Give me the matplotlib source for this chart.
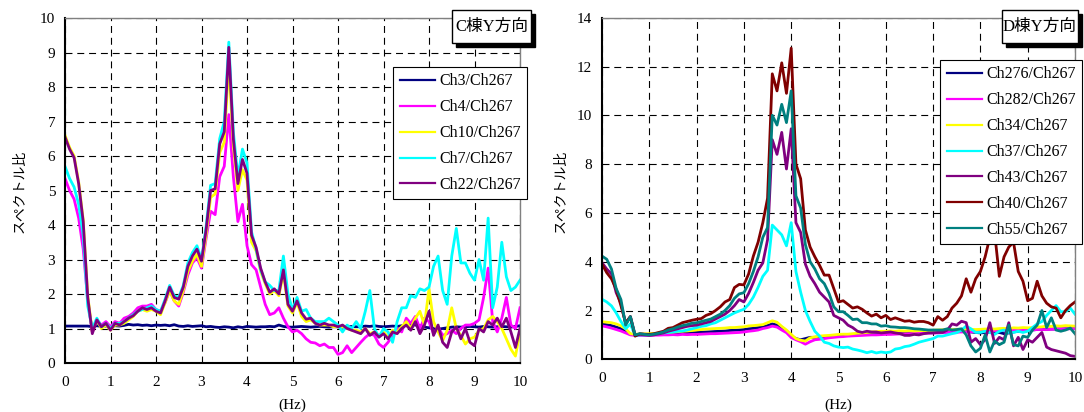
import numpy as np
import matplotlib

matplotlib.use("Agg")
import matplotlib.pyplot as plt
from matplotlib.patches import Rectangle

W, H = 1084, 412

# frequency axis (Hz), 0.1 Hz steps
freq = np.round(np.arange(0, 10.01, 0.1), 1)

# --- C棟 Y方向 (left panel) ---
c_labels = ["Ch3/Ch267", "Ch4/Ch267", "Ch10/Ch267", "Ch7/Ch267", "Ch22/Ch267"]
c_colors = ["#000080", "#ff00ff", "#ffff00", "#00ffff", "#800080"]

c_ch3 = [1.07, 1.07, 1.07, 1.07, 1.07, 1.07, 1.05, 1.08, 1.06, 1.07,
         1.06, 1.08, 1.07, 1.09, 1.12, 1.10, 1.11, 1.09, 1.10, 1.08,
         1.10, 1.09, 1.10, 1.08, 1.11, 1.07, 1.06, 1.08, 1.06, 1.07,
         1.08, 1.05, 1.06, 1.04, 1.03, 1.05, 1.04, 1.02, 1.05, 1.03,
         1.06, 1.05, 1.04, 1.05, 1.05, 1.06, 1.05, 1.10, 1.06, 1.04,
         1.04, 1.05, 1.06, 1.05, 1.04, 1.05, 1.06, 1.05, 1.04, 1.05,
         1.05, 1.04, 1.05, 1.06, 1.05, 1.05, 1.07, 1.06, 1.08, 1.06,
         1.05, 1.06, 1.07, 1.06, 1.08, 1.10, 1.12, 1.10, 1.08, 1.04,
         1.02, 1.00, 0.98, 1.00, 1.02, 1.04, 1.05, 1.04, 1.05, 1.06,
         1.05, 1.04, 1.06, 1.05, 1.04, 1.05, 1.06, 1.05, 1.04, 1.06, 1.08]

c_ch4 = [5.35, 5.0, 4.75, 4.2, 3.3, 1.8, 0.9, 1.25, 1.1, 1.2,
         1.05, 1.2, 1.15, 1.3, 1.35, 1.45, 1.6, 1.65, 1.65, 1.7,
         1.55, 1.5, 1.75, 2.1, 1.8, 1.65, 2.05, 2.55, 2.9, 3.05,
         2.75, 3.6, 4.4, 4.3, 5.4, 5.7, 7.2, 5.4, 4.1, 4.6,
         3.4, 2.85, 2.7, 2.2, 1.7, 1.4, 1.45, 1.6, 1.3, 1.05,
         0.9, 0.95, 0.85, 0.7, 0.6, 0.58, 0.5, 0.55, 0.45, 0.45,
         0.25, 0.3, 0.5, 0.3, 0.45, 0.6, 0.74, 0.85, 0.8, 0.55,
         0.45, 0.6, 0.8, 1.0, 0.9, 1.3, 1.15, 1.35, 1.0, 1.3,
         1.2, 0.85, 1.05, 0.8, 0.85, 0.95, 0.85, 1.0, 1.1, 1.1,
         1.15, 1.25, 1.9, 2.75, 1.2, 0.9, 1.3, 1.9, 1.1, 1.0, 1.6]

c_ch10 = [6.6, 6.25, 6.0, 5.25, 4.15, 1.95, 0.9, 1.25, 1.0, 1.1,
          0.95, 1.1, 1.1, 1.15, 1.25, 1.35, 1.5, 1.55, 1.5, 1.55,
          1.5, 1.4, 1.75, 2.1, 1.8, 1.7, 2.1, 2.65, 2.95, 3.15,
          2.8, 3.7, 4.8, 4.9, 6.1, 6.4, 8.7, 6.3, 5.0, 5.6,
          5.3, 3.5, 3.25, 2.65, 2.3, 2.0, 2.1, 1.95, 2.6, 1.65,
          1.45, 1.75, 1.35, 1.2, 1.25, 1.15, 1.1, 1.1, 1.1, 1.05,
          1.05, 1.05, 1.0, 0.95, 0.95, 0.9, 1.0, 0.85, 0.9, 0.8,
          0.9, 0.75, 0.95, 0.9, 1.05, 1.2, 1.0, 1.3, 1.5, 1.1,
          2.15, 1.2, 0.9, 0.65, 0.95, 1.6, 1.0, 0.8, 0.55, 0.7,
          0.75, 0.95, 1.0, 1.25, 1.35, 1.2, 1.0, 0.7, 0.4, 0.2, 0.9]

c_ch7 = [5.7, 5.35, 5.1, 4.6, 3.7, 1.65, 1.0, 1.3, 1.05, 1.15,
         1.0, 1.15, 1.15, 1.2, 1.3, 1.4, 1.5, 1.55, 1.6, 1.65,
         1.55, 1.5, 1.85, 2.25, 1.95, 1.9, 2.25, 2.9, 3.2, 3.4,
         3.0, 3.95, 5.15, 5.2, 6.5, 7.0, 9.3, 6.7, 5.4, 6.2,
         5.8, 3.8, 3.3, 2.7, 2.35, 2.25, 2.1, 2.1, 3.1, 2.0,
         1.55, 1.9, 1.5, 1.55, 1.3, 1.2, 1.2, 1.2, 1.3, 1.2,
         1.1, 0.9, 1.1, 1.0, 1.2, 1.0, 1.5, 2.1, 1.0, 0.75,
         1.0, 0.9, 0.6, 1.2, 1.6, 1.6, 1.95, 1.9, 2.15, 2.1,
         2.2, 2.8, 3.1, 2.1, 1.7, 3.1, 3.9, 2.9, 2.9, 2.6,
         2.4, 3.0, 2.4, 4.2, 1.6, 2.2, 3.5, 2.5, 2.1, 2.2, 2.4]

c_ch22 = [6.55, 6.2, 5.95, 5.2, 4.1, 1.9, 0.85, 1.25, 1.05, 1.15,
          0.95, 1.15, 1.1, 1.2, 1.3, 1.37, 1.5, 1.6, 1.55, 1.6,
          1.5, 1.45, 1.8, 2.2, 1.9, 1.85, 2.2, 2.8, 3.1, 3.3,
          2.95, 3.85, 5.0, 5.05, 6.35, 6.7, 9.15, 6.5, 5.2, 5.9,
          5.5, 3.7, 3.35, 2.75, 2.35, 2.05, 2.15, 2.0, 2.7, 1.7,
          1.5, 1.8, 1.45, 1.27, 1.3, 1.15, 1.1, 1.15, 1.1, 1.1,
          1.05, 1.1, 1.0, 0.95, 0.9, 0.85, 1.0, 0.8, 0.9, 0.75,
          0.85, 0.7, 0.9, 0.85, 1.0, 1.1, 0.95, 1.2, 0.85, 1.1,
          1.5, 0.8, 1.1, 0.6, 0.45, 0.9, 1.05, 0.7, 1.0, 0.6,
          0.5, 1.0, 0.9, 1.2, 1.1, 1.3, 1.05, 1.3, 0.9, 0.45, 1.0]

# --- D棟 Y方向 (right panel) ---
d_labels = ["Ch276/Ch267", "Ch282/Ch267", "Ch34/Ch267", "Ch37/Ch267",
            "Ch43/Ch267", "Ch40/Ch267", "Ch55/Ch267"]
d_colors = ["#000080", "#ff00ff", "#ffff00", "#00ffff", "#800080", "#800000", "#008080"]

d_ch276 = [1.45, 1.42, 1.38, 1.32, 1.26, 1.15, 1.02, 1.0, 1.0, 1.0,
           1.0, 1.01, 1.02, 1.03, 1.04, 1.05, 1.06, 1.07, 1.08, 1.09,
           1.1, 1.11, 1.12, 1.13, 1.14, 1.15, 1.16, 1.18, 1.19, 1.2,
           1.22, 1.25, 1.27, 1.3, 1.33, 1.38, 1.45, 1.4, 1.27, 1.15,
           0.95, 0.85, 0.8, 0.85, 0.9, 0.9, 0.92, 0.93, 0.95, 0.96,
           0.98, 0.99, 1.0, 1.0, 1.02, 1.02, 1.03, 1.04, 1.05, 1.05,
           1.06, 1.06, 1.07, 1.07, 1.08, 1.08, 1.09, 1.09, 1.1, 1.1,
           1.11, 1.1, 1.12, 1.12, 1.13, 1.13, 1.14, 1.14, 1.12, 1.1,
           1.08, 1.1, 1.12, 1.08, 1.1, 1.05, 1.08, 1.12, 1.15, 1.18,
           1.2, 1.2, 1.22, 1.22, 1.23, 1.24, 1.24, 1.25, 1.25, 1.26, 1.27]

d_ch282 = [1.37, 1.33, 1.28, 1.22, 1.16, 1.08, 1.0, 0.98, 0.98, 0.98,
           0.98, 0.99, 0.99, 1.0, 1.0, 1.01, 1.0, 1.02, 1.01, 1.02,
           1.02, 1.03, 1.04, 1.05, 1.05, 1.06, 1.07, 1.08, 1.09, 1.1,
           1.12, 1.15, 1.17, 1.2, 1.26, 1.3, 1.36, 1.32, 1.2, 1.09,
           0.89, 0.8, 0.72, 0.62, 0.72, 0.8, 0.82, 0.85, 0.88, 0.9,
           0.92, 0.93, 0.95, 0.96, 0.97, 0.98, 0.99, 1.0, 1.0, 1.01,
           1.02, 1.02, 1.03, 1.04, 1.04, 1.05, 1.06, 1.06, 1.07, 1.07,
           1.08, 1.08, 1.09, 1.1, 1.1, 1.11, 1.12, 1.12, 1.13, 1.14,
           1.15, 1.15, 1.16, 1.17, 1.18, 1.18, 1.19, 1.2, 1.2, 1.21,
           1.2, 1.21, 1.22, 1.22, 1.22, 1.23, 1.24, 1.24, 1.25, 1.25, 1.26]

d_ch34 = [1.54, 1.52, 1.5, 1.45, 1.37, 1.25, 1.05, 1.03, 1.03, 1.04,
          1.05, 1.06, 1.07, 1.09, 1.1, 1.12, 1.13, 1.15, 1.16, 1.18,
          1.2, 1.22, 1.24, 1.25, 1.26, 1.27, 1.28, 1.3, 1.3, 1.32,
          1.33, 1.37, 1.38, 1.4, 1.42, 1.5, 1.58, 1.52, 1.35, 1.2,
          1.02, 0.85, 0.78, 0.75, 0.88, 0.92, 0.95, 0.97, 0.98, 1.0,
          1.02, 1.03, 1.03, 1.05, 1.07, 1.08, 1.1, 1.12, 1.13, 1.15,
          1.15, 1.16, 1.15, 1.17, 1.16, 1.17, 1.16, 1.17, 1.18, 1.17,
          1.19, 1.2, 1.21, 1.22, 1.22, 1.23, 1.22, 1.24, 1.23, 1.22,
          1.23, 1.24, 1.25, 1.24, 1.26, 1.27, 1.26, 1.29, 1.28, 1.3,
          1.29, 1.3, 1.32, 1.33, 1.36, 1.35, 1.37, 1.36, 1.38, 1.37, 1.36]

d_ch37 = [2.46, 2.35, 2.19, 1.9, 1.55, 1.25, 1.45, 0.96, 1.0, 1.0,
          1.0, 1.02, 1.05, 1.08, 1.1, 1.12, 1.15, 1.16, 1.2, 1.25,
          1.3, 1.35, 1.38, 1.45, 1.5, 1.6, 1.7, 1.8, 1.9, 1.98,
          2.05, 2.25, 2.55, 2.95, 3.4, 3.65, 5.5, 5.3, 5.1, 4.65,
          5.6, 3.6, 2.75, 2.0, 1.55, 1.15, 0.95, 0.7, 0.65, 0.55,
          0.5, 0.48, 0.5, 0.42, 0.38, 0.33, 0.27, 0.32, 0.26, 0.3,
          0.27, 0.3, 0.42, 0.45, 0.52, 0.55, 0.62, 0.7, 0.75, 0.8,
          0.85, 0.95, 0.95, 1.0, 1.05, 1.09, 1.2, 1.36, 1.25, 1.1,
          1.1, 1.15, 1.1, 1.02, 1.15, 1.2, 1.1, 1.1, 1.15, 1.1,
          1.15, 1.3, 1.45, 1.55, 1.8, 2.0, 2.2, 1.95, 1.95, 2.1, 1.85]

d_ch43 = [3.96, 3.7, 3.5, 2.73, 2.3, 1.45, 1.75, 0.98, 1.02, 1.0,
          0.98, 1.0, 1.04, 1.08, 1.15, 1.2, 1.25, 1.3, 1.35, 1.38,
          1.4, 1.45, 1.5, 1.55, 1.65, 1.75, 1.85, 2.0, 2.2, 2.45,
          2.35, 2.7, 3.15, 3.65, 3.95, 4.9, 9.0, 8.4, 9.3, 7.8,
          9.45, 5.6, 5.2, 3.9, 3.4, 3.1, 2.75, 2.55, 2.35, 1.8,
          1.7, 1.6, 1.4, 1.3, 1.15, 1.1, 1.15, 1.12, 1.12, 1.08,
          1.1, 1.12, 1.08, 1.05, 0.98, 0.98, 1.02, 1.0, 1.05, 1.08,
          1.08, 1.1, 1.1, 1.2, 1.45, 1.4, 1.56, 1.5, 0.7, 0.85,
          0.6, 0.8, 1.5, 0.65, 0.9, 0.8, 1.5, 0.55, 0.9, 0.4,
          0.8, 0.7, 0.9, 1.1, 0.5, 0.4, 0.35, 0.3, 0.25, 0.15, 0.12]

d_ch40 = [3.9, 3.55, 3.3, 2.87, 2.2, 1.5, 1.75, 0.95, 1.05, 1.03,
          1.02, 1.05, 1.1, 1.15, 1.27, 1.3, 1.4, 1.5, 1.55, 1.6,
          1.64, 1.67, 1.8, 1.87, 2.0, 2.15, 2.35, 2.45, 2.94, 3.07,
          3.05, 3.5, 4.23, 4.8, 5.6, 6.6, 11.7, 11.0, 12.15, 10.9,
          12.75, 8.0, 7.4, 5.3, 4.6, 4.2, 3.85, 3.45, 3.45, 2.9,
          2.35, 2.4, 2.25, 2.1, 2.15, 2.05, 1.9, 1.77, 1.85, 1.7,
          1.8, 1.63, 1.7, 1.63, 1.56, 1.58, 1.52, 1.55, 1.55, 1.5,
          1.4, 1.75, 1.6, 1.75, 2.1, 2.3, 2.6, 3.3, 2.75, 3.3,
          3.6, 4.2, 5.0, 5.2, 3.4, 4.2, 4.6, 4.8, 3.6, 3.2,
          2.4, 2.5, 3.2, 2.6, 2.3, 2.15, 2.1, 1.7, 2.0, 2.2, 2.35]

d_ch55 = [4.23, 4.1, 3.7, 2.9, 2.45, 1.4, 1.75, 1.0, 1.05, 1.02,
          1.0, 1.03, 1.07, 1.12, 1.2, 1.25, 1.32, 1.38, 1.42, 1.48,
          1.5, 1.55, 1.6, 1.65, 1.75, 1.85, 2.0, 2.2, 2.5, 2.68,
          2.73, 3.1, 3.6, 4.2, 5.0, 5.4, 10.0, 9.6, 10.45, 9.7,
          11.0, 6.7, 6.2, 4.7, 4.0, 3.7, 3.3, 3.1, 2.7, 2.15,
          1.95, 1.95, 1.8, 1.63, 1.65, 1.5, 1.5, 1.45, 1.45, 1.36,
          1.38, 1.33, 1.32, 1.3, 1.3, 1.28, 1.25, 1.24, 1.22, 1.2,
          1.2, 1.2, 1.2, 1.25, 1.2, 1.22, 1.25, 1.0, 0.55, 0.3,
          0.45, 1.0, 0.3, 0.75, 0.6, 0.7, 1.4, 0.6, 0.55, 0.95,
          0.9, 1.2, 1.4, 2.0, 1.3, 1.7, 1.2, 1.15, 1.2, 1.28, 1.05]

c_series = [c_ch3, c_ch4, c_ch10, c_ch7, c_ch22]
d_series = [d_ch276, d_ch282, d_ch34, d_ch37, d_ch43, d_ch40, d_ch55]

plt.rcParams["font.family"] = ["Liberation Serif", "Noto Sans CJK JP"]
plt.rcParams["lines.scale_dashes"] = False


def px_rect(x0, y0, x1, y1):
    return [x0 / W, 1 - y1 / H, (x1 - x0) / W, (y1 - y0) / H]


def style_axes(ax, ymax, ystep):
    ax.set_xlim(0, 10)
    ax.set_ylim(0, ymax)
    ax.set_xticks(range(0, 11))
    ax.set_yticks(np.arange(0, ymax + 0.1, ystep))
    ax.grid(True, color="black", linestyle=(0, (5, 3.5)), linewidth=0.8)
    ax.set_axisbelow(True)
    for side in ("left", "bottom"):
        ax.spines[side].set_color("black")
        ax.spines[side].set_linewidth(1.5)
    for side in ("top", "right"):
        ax.spines[side].set_color("#808080")
        ax.spines[side].set_linewidth(1.0)
    ax.tick_params(axis="both", length=0, labelsize=11)
    ax.tick_params(axis="x", pad=9)
    ax.tick_params(axis="y", pad=7)


def title_box(fig, x0, y0, x1, y1, text):
    # black drop shadow, then white framed box on top
    shadow = Rectangle(((x0 + 4) / W, 1 - (y1 + 4) / H), (x1 - x0) / W, (y1 - y0) / H,
                       transform=fig.transFigure, facecolor="black",
                       edgecolor="black", zorder=5)
    box = Rectangle((x0 / W, 1 - y1 / H), (x1 - x0) / W, (y1 - y0) / H,
                    transform=fig.transFigure, facecolor="white",
                    edgecolor="black", linewidth=1.0, zorder=6)
    fig.add_artist(shadow)
    fig.add_artist(box)
    fig.text((x0 + x1) / 2 / W, 1 - (y0 + y1) / 2 / H, text, ha="center", va="center",
             fontsize=12, zorder=7)


fig = plt.figure(figsize=(W / 100, H / 100), dpi=100)
ax1 = fig.add_axes(px_rect(65, 18, 520, 363))
ax2 = fig.add_axes(px_rect(602, 17.7, 1075, 359.3))

for vals, lab, col in zip(c_series, c_labels, c_colors):
    ax1.plot(freq, vals, color=col, linewidth=2.0, label=lab)
for vals, lab, col in zip(d_series, d_labels, d_colors):
    ax2.plot(freq, vals, color=col, linewidth=2.0, label=lab)

style_axes(ax1, 10, 1)
style_axes(ax2, 14, 2)

legend_kw = dict(loc="upper right", bbox_transform=fig.transFigure, frameon=True,
                 fancybox=False, edgecolor="black", framealpha=1, fontsize=11.5,
                 handlelength=2.2, handletextpad=0.25, labelspacing=0.62,
                 borderpad=0.4, borderaxespad=0)
leg1 = ax1.legend(bbox_to_anchor=(527 / W, 1 - 67 / H), **legend_kw)
leg2 = ax2.legend(bbox_to_anchor=(1082 / W, 1 - 60 / H), **legend_kw)
for leg in (leg1, leg2):
    leg.get_frame().set_linewidth(0.8)
    leg.set_zorder(10)
    for hl in leg.get_lines():
        hl.set_linewidth(1.6)

for xc in (20, 561):
    fig.text(xc / W, 1 - 191 / H, "スペクトル比", rotation=90, ha="center", va="center",
             fontsize=10, family="Noto Sans CJK JP")
for xc in (292, 838):
    fig.text(xc / W, 1 - 405 / H, "(Hz)", ha="center", va="center", fontsize=11)

title_box(fig, 452, 10, 531, 43, "C棟Y方向")
title_box(fig, 1002, 10, 1078, 43, "D棟Y方向")

fig.savefig("out.png", dpi=100)
